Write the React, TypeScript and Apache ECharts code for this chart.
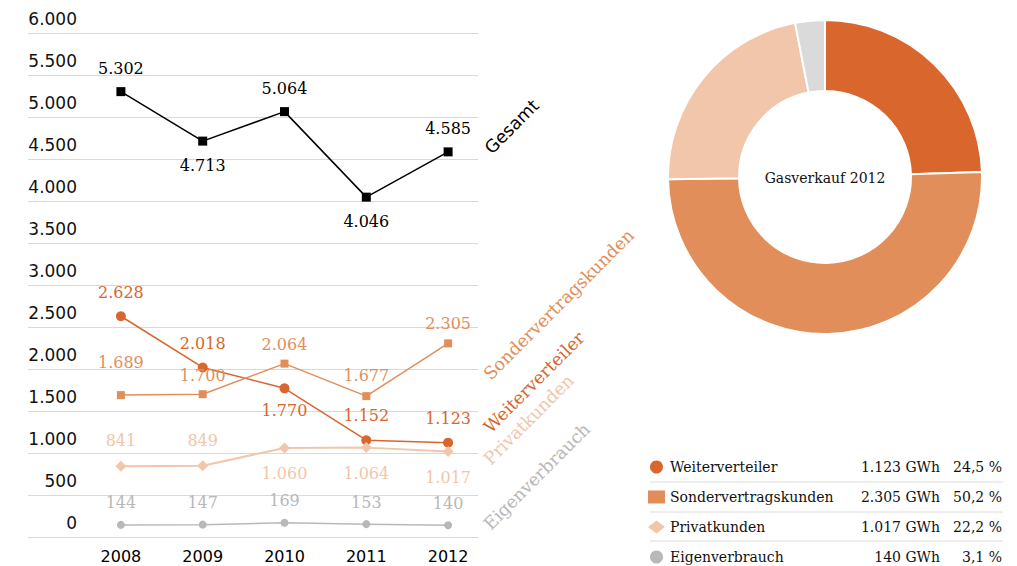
import React, { useEffect, useRef } from "react";
import * as echarts from "echarts";

// ---- data ----
const years = ["2008", "2009", "2010", "2011", "2012"];
const gesamt = [5302, 4713, 5064, 4046, 4585];
const weiterverteiler = [2628, 2018, 1770, 1152, 1123];
const sondervertragskunden = [1689, 1700, 2064, 1677, 2305];
const privatkunden = [841, 849, 1060, 1064, 1017];
const eigenverbrauch = [144, 147, 169, 153, 140];
const pieNames = ["Weiterverteiler", "Sondervertragskunden", "Privatkunden", "Eigenverbrauch"];
const pieValues2012 = [1123, 2305, 1017, 140];
const pieShares2012 = ["24,5", "50,2", "22,2", "3,1"];
const yMin = 0;
const yMax = 6000;
const yStep = 500;
const pieTitle = "Gasverkauf 2012";

// ---- styles ----
const C_GES = "#000000";
const C_WEI = "#D8662D";
const C_SON = "#E18E5B";
const C_PRI = "#F1C6AA";
const C_EIG = "#B8B8B8";
const C_EIG_PIE = "#DADADA";
const SERIF = "DejaVu Serif";
const SANS = "DejaVu Sans";

const fmt = (v: number) => String(v).replace(/\B(?=(\d{3})+(?!\d))/g, ".");

function lineSeries(
  name: string,
  data: number[],
  color: string,
  symbol: string,
  symbolSize: number,
  positions: string[],
  distances: number[],
  lineWidth: number
) {
  return {
    type: "line",
    name,
    xAxisIndex: 0,
    yAxisIndex: 0,
    symbol,
    symbolSize,
    lineStyle: { color, width: lineWidth },
    itemStyle: { color },
    emphasis: { disabled: true },
    data: data.map((v, i) => ({
      value: v,
      label: { position: positions[i], distance: distances[i] },
    })),
    label: {
      show: true,
      color,
      fontFamily: SERIF,
      fontSize: 16,
      formatter: (p: any) => fmt(p.value),
    },
    z: 3,
  };
}

export default function App() {
  const ref = useRef<HTMLDivElement>(null);
  useEffect(() => {
    if (!ref.current) return;
    const chart = echarts.init(ref.current, undefined, { renderer: "svg" });
    const rotated = (text: string, x: number, y: number, color: string, font: string, size: number) => ({
      type: "text",
      x,
      y,
      rotation: Math.PI / 4,
      style: { text, fill: color, font: `${size}px "${font}"`, textAlign: "left", textVerticalAlign: "bottom" },
      z: 10,
    });
    const option: any = {
      animation: false,
      grid: [
        { left: 80, right: 528, top: 33, bottom: 29 },
        { left: 28, right: 539, top: 33, bottom: 29 },
      ],
      xAxis: [
        {
          type: "category",
          gridIndex: 0,
          data: years,
          boundaryGap: true,
          axisLine: { show: false },
          axisTick: { show: false },
          axisLabel: { color: "#000", fontFamily: SANS, fontSize: 16, margin: 11 },
        },
        { type: "value", gridIndex: 1, show: false, min: 0, max: 1 },
      ],
      yAxis: [
        { type: "value", gridIndex: 0, min: yMin, max: yMax, show: false },
        {
          type: "value",
          gridIndex: 1,
          min: yMin,
          max: yMax,
          interval: yStep,
          axisLine: { show: false },
          axisTick: { show: false },
          splitLine: { show: true, lineStyle: { color: "#d9d9d9", width: 1 } },
          axisLabel: {
            inside: true,
            align: "right",
            verticalAlign: "bottom",
            margin: 49,
            padding: [0, 0, 6, 0],
            color: "#111",
            fontFamily: SANS,
            fontSize: 17,
            formatter: (v: number) => fmt(v),
          },
        },
      ],
      legend: {
        orient: "vertical",
        left: 648,
        top: 457,
        height: 130,
        padding: 0,
        itemWidth: 17,
        itemHeight: 13,
        itemGap: 10,
        selectedMode: false,
        data: pieNames.map((n, i) => ({
          name: n,
          icon: ["circle", "rect", "diamond", "circle"][i],
          itemStyle: { color: [C_WEI, C_SON, C_PRI, C_EIG][i] },
        })),
        formatter: (name: string) => {
          const i = pieNames.indexOf(name);
          return `{n|${name}}{v|${fmt(pieValues2012[i])} GWh}{p|${pieShares2012[i]} %}`;
        },
        textStyle: {
          fontFamily: SERIF,
          fontSize: 14,
          color: "#111",
          lineHeight: 20,
          rich: {
            n: { width: 190, align: "left", fontFamily: SERIF, fontSize: 14, color: "#111", lineHeight: 20 },
            v: { width: 80, align: "right", fontFamily: SERIF, fontSize: 14, color: "#111", lineHeight: 20 },
            p: { width: 62, align: "right", fontFamily: SERIF, fontSize: 14, color: "#111", lineHeight: 20 },
          },
        },
      },
      series: [
        lineSeries("Gesamt", gesamt, C_GES, "rect", 9, ["top", "bottom", "top", "bottom", "top"], [11, 12, 11, 12, 11], 1.5),
        lineSeries("Weiterverteiler", weiterverteiler, C_WEI, "circle", 10, ["top", "top", "bottom", "top", "top"], [11, 11, 9, 12, 11], 1.5),
        lineSeries("Sondervertragskunden", sondervertragskunden, C_SON, "rect", 8, ["top", "top", "top", "top", "top"], [21, 7, 7, 9, 8], 1.5),
        lineSeries("Privatkunden", privatkunden, C_PRI, "diamond", 11, ["top", "top", "bottom", "bottom", "bottom"], [12, 12, 12, 12, 12], 2),
        lineSeries("Eigenverbrauch", eigenverbrauch, C_EIG, "circle", 8, ["top", "top", "top", "top", "top"], [10, 10, 10, 10, 10], 1.5),
        {
          type: "pie",
          name: pieTitle,
          center: [825, 177],
          radius: [86, 157],
          startAngle: 90,
          clockwise: true,
          label: { show: false },
          labelLine: { show: false },
          emphasis: { disabled: true },
          itemStyle: { borderColor: "#fff", borderWidth: 2 },
          data: pieNames.map((n, i) => ({
            name: n,
            value: pieValues2012[i],
            itemStyle: { color: [C_WEI, C_SON, C_PRI, C_EIG_PIE][i] },
          })),
        },
      ],
      graphic: [
        {
          type: "text",
          x: 825,
          y: 178,
          style: { text: pieTitle, fill: "#111", font: `14px "${SERIF}"`, textAlign: "center", textVerticalAlign: "middle" },
        },
        rotated("Gesamt", 494, 157, "#000", SANS, 17.5),
        rotated("Sondervertragskunden", 493, 383, C_SON, SERIF, 17.5),
        rotated("Weiterverteiler", 493, 436, C_WEI, SERIF, 17.5),
        rotated("Privatkunden", 493, 468, C_PRI, SERIF, 17.5),
        rotated("Eigenverbrauch", 493, 533, C_EIG, SERIF, 17.5),
        { type: "line", shape: { x1: 650, y1: 482, x2: 1003, y2: 482 }, style: { stroke: "#dcdcdc", lineWidth: 1 } },
        { type: "line", shape: { x1: 650, y1: 512, x2: 1003, y2: 512 }, style: { stroke: "#dcdcdc", lineWidth: 1 } },
        { type: "line", shape: { x1: 650, y1: 541, x2: 1003, y2: 541 }, style: { stroke: "#dcdcdc", lineWidth: 1 } },
      ],
    };
    chart.setOption(option);
    return () => chart.dispose();
  }, []);
  return (
    <div
      ref={ref}
      style={{ position: "fixed", left: 0, top: 0, width: 1017, height: 566, background: "#fff" }}
    />
  );
}
